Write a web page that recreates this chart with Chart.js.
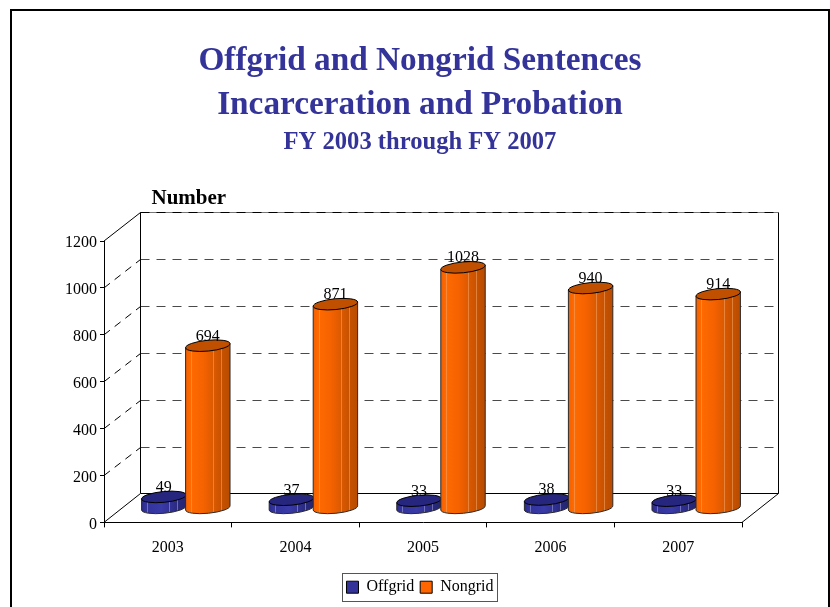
<!DOCTYPE html>
<html>
<head>
<meta charset="utf-8">
<style>html,body{margin:0;padding:0;background:#fff}canvas{display:block}</style>
<script src="https://cdn.jsdelivr.net/npm/chart.js@4"></script>
</head>
<body>
<div style="width:830px;height:607px"><canvas id="c" width="830" height="607"></canvas></div>
<script>
const categories = ['2003','2004','2005','2006','2007'];
const offgrid = [49,37,33,38,33];
const nongrid = [694,871,1028,940,914];
const yTicks = [0,200,400,600,800,1000,1200];
const titleLines = ['Offgrid and Nongrid Sentences','Incarceration and Probation'];
const subtitleText = 'FY 2003 through FY 2007';
const yAxisName = 'Number';
const SERIF = '"Liberation Serif","Times New Roman",serif';
const DEPTH_X = 36.5, DEPTH_Y = -28.5;
const NAVY = '#333399';

const themes = {
  '#333399': {top:'#26267f', stops:[[0,'#2b2b8a'],[0.1,'#33339c'],[0.45,'#3a3aa8'],[0.62,'#323298'],[0.8,'#2a2a80'],[1,'#24246e']], line:'#9a9ad8'},
  '#ff6600': {top:'#c05000', stops:[[0,'#f26000'],[0.12,'#ff6a00'],[0.4,'#f56200'],[0.62,'#dc5a00'],[0.8,'#c85200'],[1,'#b84c00']], line:'#f0a060'}
};
const cylinderRot = -5.5*Math.PI/180;
const midX = 18, midY = -14;

Chart.BarElement.prototype.draw = function(ctx){
  const p = this.getProps(['x','y','base','width']);
  const th = themes[this.options.backgroundColor] || themes['#ff6600'];
  const cx = p.x + midX, rx = p.width/2 + 0.3, ry = 5.4;
  const top = p.y + midY, bot = p.base + midY;
  const sx = Math.cos(cylinderRot)*rx, sy = Math.sin(cylinderRot)*rx;
  ctx.save();
  const side = new Path2D();
  side.moveTo(cx-sx, top-sy);
  side.lineTo(cx-sx, bot-sy);
  side.ellipse(cx, bot, rx, ry, cylinderRot, Math.PI, 0, true);
  side.lineTo(cx+sx, top+sy);
  side.closePath();
  const g = ctx.createLinearGradient(cx-sx,0,cx+sx,0);
  th.stops.forEach(s=>g.addColorStop(s[0],s[1]));
  ctx.fillStyle = g; ctx.fill(side);
  ctx.save(); ctx.clip(side);
  ctx.strokeStyle = th.line; ctx.globalAlpha = 0.6; ctx.lineWidth = 1;
  [0.12,0.62,0.8].forEach(f=>{
    const lx = Math.round(cx-sx+2*sx*f)+0.5;
    ctx.beginPath(); ctx.moveTo(lx,top-10); ctx.lineTo(lx,bot+10); ctx.stroke();
  });
  ctx.restore();
  ctx.strokeStyle = '#2a2a2a'; ctx.lineWidth = 1; ctx.stroke(side);
  ctx.beginPath();
  ctx.ellipse(cx, top, rx, ry, cylinderRot, 0, Math.PI*2);
  ctx.fillStyle = th.top; ctx.fill();
  ctx.strokeStyle = '#000'; ctx.stroke();
  ctx.restore();
};

const frame3d = {
  id:'frame3d',
  beforeDatasetsDraw(chart){
    const {ctx, chartArea:a, scales:{y}} = chart;
    const L=a.left, R=a.right, B=a.bottom, T=a.top;
    ctx.save();
    ctx.lineWidth = 1;
    yTicks.slice(1).forEach(v=>{
      const f = y.getPixelForValue(v);
      const by = Math.floor(f+DEPTH_Y)+0.5;
      if(v===1200){
        ctx.setLineDash([]); ctx.strokeStyle='#777';
        ctx.beginPath(); ctx.moveTo(L+DEPTH_X, by); ctx.lineTo(R+DEPTH_X, by); ctx.stroke();
      }
      ctx.setLineDash([9,7]); ctx.strokeStyle = v===1200?'#000':'#4a4a4a';
      ctx.lineWidth = v===1200?1:1.2;
      ctx.beginPath(); ctx.moveTo(L+DEPTH_X, by); ctx.lineTo(R+DEPTH_X, by); ctx.stroke();
      ctx.lineWidth = 1;
      ctx.setLineDash(v===1200?[]:[7.5,6]); ctx.strokeStyle = '#000';
      ctx.beginPath(); ctx.moveTo(L, f); ctx.lineTo(L+DEPTH_X, by); ctx.stroke();
    });
    ctx.setLineDash([]); ctx.strokeStyle = '#000';
    ctx.beginPath();
    const fy = Math.floor(B+DEPTH_Y)+0.5, ty = Math.floor(T+DEPTH_Y)+0.5;
    ctx.moveTo(L, B); ctx.lineTo(L+DEPTH_X, fy); ctx.lineTo(R+DEPTH_X, fy); ctx.lineTo(R, B);
    ctx.moveTo(L+DEPTH_X, ty); ctx.lineTo(L+DEPTH_X, fy);
    ctx.moveTo(R+DEPTH_X, ty); ctx.lineTo(R+DEPTH_X, fy);
    ctx.stroke();
    ctx.restore();
  },
  beforeDatasetDraw(chart,args){ if(args.index===1) return false; },
  afterDatasetsDraw(chart){
    const {ctx} = chart;
    chart.getDatasetMeta(1).controller.draw();
    ctx.save();
    ctx.font = '16px '+SERIF; ctx.fillStyle = '#000'; ctx.textAlign='center'; ctx.textBaseline='alphabetic';
    chart.data.datasets.forEach((ds,i)=>{
      chart.getDatasetMeta(i).data.forEach((el,j)=>{
        ctx.fillText(String(ds.data[j]), el.x + midX, el.y + midY - 5);
      });
    });
    ctx.restore();
  },
  afterDraw(chart){
    const {ctx, legend, chartArea:a} = chart;
    ctx.save();
    ctx.font = 'bold 21px '+SERIF; ctx.fillStyle='#000'; ctx.textAlign='left'; ctx.textBaseline='alphabetic';
    ctx.fillText(yAxisName, a.left+47.5, 204);
    ctx.strokeStyle='#000'; ctx.lineWidth=2;
    ctx.beginPath(); ctx.moveTo(11,607); ctx.lineTo(11,10); ctx.lineTo(829,10); ctx.lineTo(829,607); ctx.stroke();
    const hb = legend.legendHitBoxes;
    const l = hb[0].left - 4.5, r = hb[hb.length-1].left + hb[hb.length-1].width + 3;
    ctx.strokeStyle='#555'; ctx.lineWidth=1;
    ctx.strokeRect(Math.round(l)+0.5, Math.round(legend.top)+0.5, Math.round(r-l), 28);
    ctx.restore();
  }
};

new Chart(document.getElementById('c'),{
  type:'bar',
  data:{labels:categories,datasets:[
    {label:'Offgrid',data:offgrid,backgroundColor:'#333399',borderColor:'#000',borderWidth:1,clip:false},
    {label:'Nongrid',data:nongrid,backgroundColor:'#ff6600',borderColor:'#000',borderWidth:1,clip:false}
  ]},
  plugins:[frame3d],
  options:{
    responsive:false,animation:false,
    layout:{padding:{left:10,right:0,top:39,bottom:1.8}},
    categoryPercentage:0.69,barPercentage:1,
    plugins:{
      tooltip:{enabled:false},
      title:{display:true,text:titleLines,color:NAVY,font:{family:SERIF,size:33.3,weight:'bold',lineHeight:1.3213},padding:{top:0,bottom:0}},
      subtitle:{display:true,text:subtitleText,color:NAVY,font:{family:SERIF,size:24.6,weight:'bold',lineHeight:1.2},padding:{top:1,bottom:83.5}},
      legend:{display:true,position:'bottom',labels:{color:'#000',font:{family:SERIF,size:16},boxWidth:12,boxHeight:12,padding:6}}
    },
    scales:{
      x:{type:'category',grid:{drawOnChartArea:false,drawTicks:true,tickLength:5,color:'#000'},border:{color:'#000',width:1},
         ticks:{color:'#000',font:{family:SERIF,size:16},padding:11,maxRotation:0},
         afterFit(s){s.height=50.8;}},
      y:{min:0,max:1200,grid:{drawOnChartArea:false,drawTicks:true,tickLength:4,color:'#000'},border:{color:'#000',width:1},
         ticks:{color:'#000',font:{family:SERIF,size:16},stepSize:200,padding:3,labelOffset:2,callback:v=>String(v)},
         afterFit(s){s.width=94;}},
      spacer:{position:'right',display:true,grid:{display:false},border:{display:false},ticks:{display:false},afterFit(s){s.width=88;}}
    }
  }
});
</script>
</body>
</html>
